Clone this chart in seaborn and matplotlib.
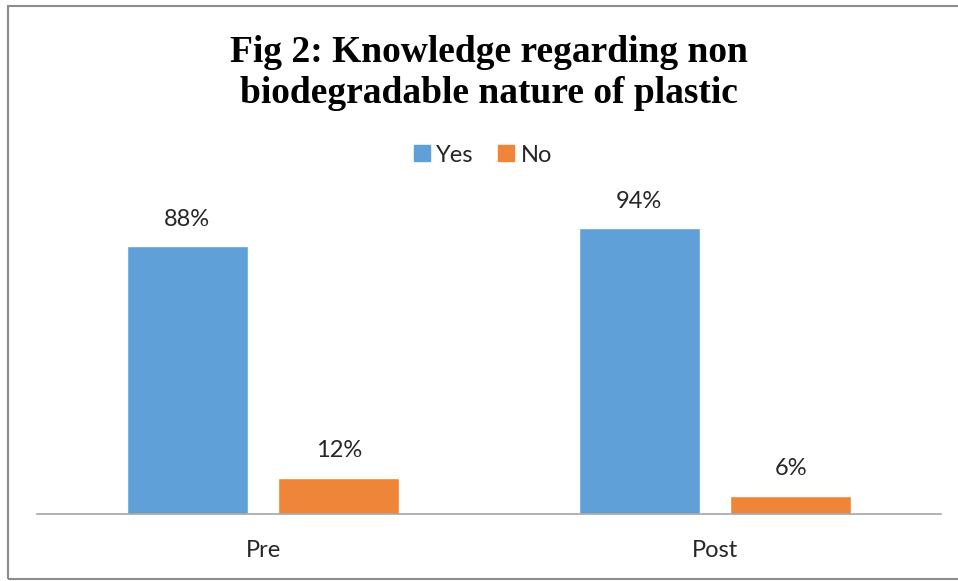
import matplotlib
matplotlib.use("Agg")
import matplotlib.pyplot as plt
import seaborn as sns
import pandas as pd
from matplotlib.patches import Rectangle
from matplotlib.lines import Line2D

categories = ["Pre", "Post"]
responses = ["Yes", "No"]
yes_values = [88, 94]
no_values = [12, 6]
colors = ["#5FA0D8", "#EF8538"]

df = pd.DataFrame({
    "Stage": categories * 2,
    "Response": ["Yes"] * 2 + ["No"] * 2,
    "Value": yes_values + no_values,
})

sns.set_style("white")
plt.rcParams["font.family"] = ["Lato", "DejaVu Sans"]

fig = plt.figure(figsize=(9.58, 5.81), dpi=100)
ax = fig.add_axes([37 / 958, (581 - 514) / 581, (941 - 37) / 958, (514 - 210) / 581])

sns.barplot(data=df, x="Stage", y="Value", hue="Response", order=categories,
            hue_order=responses, palette=colors, width=0.67, gap=0.2,
            ax=ax, legend=False, saturation=1)

for cont in ax.containers:
    ax.bar_label(cont, labels=[f"{int(v)}%" for v in cont.datavalues],
                 padding=12, fontsize=17, color="#262626")

ax.set_ylim(0, 100)
ax.set_xlim(-0.5, 1.5)
ax.set_yticks([])
ax.set_xlabel("")
ax.set_ylabel("")
ax.tick_params(axis="x", length=0, labelsize=17, pad=19, colors="#262626")
for s in ["top", "left", "right"]:
    ax.spines[s].set_visible(False)
ax.spines["bottom"].set_color("#A6A6A6")
ax.spines["bottom"].set_linewidth(1.2)

handles = [Line2D([0], [0], marker="s", color="none", markerfacecolor=c,
                  markeredgecolor=c, markersize=11) for c in colors]
fig.legend(handles, responses, loc="center", bbox_to_anchor=(482 / 958, 1 - 155 / 581),
           ncol=2, frameon=False, fontsize=17, handlelength=0.8, handletextpad=0.2,
           columnspacing=1.0, labelcolor="#262626")

fig.text(489 / 958, 1 - 73 / 581, "Fig 2: Knowledge regarding non\nbiodegradable nature of plastic",
         ha="center", va="center", fontsize=27, fontweight="bold",
         family=["Liberation Serif"], linespacing=1.25, color="black")

fig.patches.append(Rectangle((8 / 958, 1 - 579 / 581), 1.0, 573 / 581,
                             transform=fig.transFigure, fill=False,
                             edgecolor="#8C8C8C", linewidth=1.5))

fig.savefig("out.png", dpi=100)
